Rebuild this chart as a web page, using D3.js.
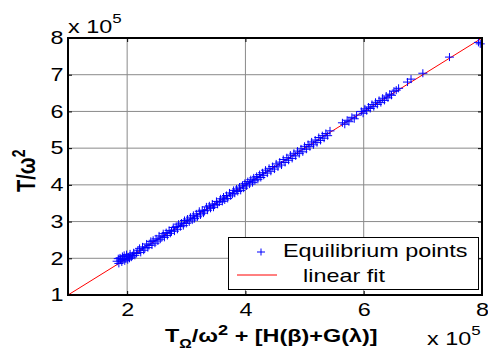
<!DOCTYPE html>
<html>
<head>
<meta charset="utf-8">
<script src="https://cdn.jsdelivr.net/npm/d3@7"></script>
<style>
  body { margin: 0; background: #fff; }
  svg { display: block; font-family: "Liberation Sans", Arial, sans-serif; }
  .grid line { stroke: #8a8a8a; stroke-width: 1; }
</style>
</head>
<body>
<svg id="plot" width="488" height="351"></svg>
<script>
// values in units of 10^5
var xTicks = [2, 4, 6, 8],
    yTicks = [1, 2, 3, 4, 5, 6, 7, 8];

var eqX = [1.83,1.85,1.86,1.88,1.89,1.91,1.92,1.93,1.95,1.96,1.98,1.99,2.01,2.02,2.04,2.05,2.07,2.09,2.11,2.13,2.16,2.18,
  2.21,2.23,2.26,2.28,2.30,2.33,2.35,2.37,2.40,2.42,2.44,2.47,2.49,2.52,2.54,2.56,2.59,2.61,2.63,2.66,2.68,2.71,2.73,2.75,2.78,2.80,2.83,2.85,2.87,2.90,2.92,2.95,2.97,3.00,
  3.02,3.05,3.07,3.10,3.12,3.14,3.17,3.19,3.22,3.24,3.27,3.29,3.31,3.34,3.36,3.39,3.41,3.44,3.46,3.48,3.51,3.53,3.56,3.58,3.61,3.63,3.65,3.68,3.70,3.73,3.75,3.78,3.80,3.82,3.85,3.87,3.90,3.92,3.95,3.97,3.99,4.02,4.04,4.07,4.09,4.12,4.14,4.16,4.19,4.21,4.24,4.26,4.29,
  4.31,4.34,4.37,4.40,4.43,4.46,4.49,4.52,4.55,4.58,4.61,4.64,4.67,4.70,4.73,4.76,4.79,4.82,4.85,4.88,4.91,4.94,4.97,5.00,5.03,5.06,5.09,5.12,5.15,5.18,5.21,5.24,5.27,5.30,5.33,5.36,5.39,5.43,
  5.64,5.68,5.72,5.75,5.80,5.84,5.88,
  5.96,5.99,6.02,6.05,6.08,6.11,6.14,6.17,6.20,6.23,6.26,6.29,6.32,6.35,6.38,6.41,6.44,6.47,6.51,6.55,6.59,
  6.74,6.80,7.00,7.45,7.94,7.97];
var eqY = [1.92,1.99,1.86,2.01,1.95,1.90,2.05,1.97,2.08,1.93,1.99,2.10,1.96,2.04,2.00,2.12,2.03,2.07,2.15,2.08,2.13,2.22,
  2.27,2.16,2.31,2.22,2.28,2.39,2.29,2.35,2.46,2.36,2.49,2.41,2.53,2.47,2.61,2.52,2.58,2.67,2.57,2.70,2.62,2.76,2.68,2.74,2.84,2.74,2.87,2.79,2.93,2.86,2.96,2.89,3.03,2.95,
  3.07,2.99,3.12,3.04,3.17,3.08,3.21,3.13,3.28,3.18,3.31,3.23,3.29,3.40,3.31,3.43,3.36,3.48,3.39,3.45,3.55,3.47,3.53,3.62,3.55,3.67,3.59,3.71,3.63,3.78,3.70,3.75,3.85,3.77,3.89,3.82,3.94,3.85,3.99,3.91,4.04,3.97,4.09,4.02,4.14,4.06,4.19,4.11,4.23,4.15,4.28,4.20,4.33,
  4.26,4.40,4.32,4.45,4.37,4.50,4.43,4.57,4.49,4.62,4.54,4.69,4.61,4.74,4.67,4.81,4.72,4.86,4.79,4.92,4.85,4.98,4.90,5.05,4.97,5.10,5.04,5.17,5.09,5.22,5.15,5.29,5.21,5.34,5.27,5.40,5.34,5.47,
  5.69,5.65,5.76,5.72,5.84,5.80,5.90,
  6.00,5.95,6.07,6.02,6.12,6.08,6.19,6.13,6.25,6.19,6.30,6.24,6.36,6.30,6.42,6.37,6.47,6.44,6.55,6.58,6.63,
  6.80,6.88,7.04,7.48,7.88,7.84];

var fitX = [1, 8],
    fitY = [1, 8];

var sx = 1.3; // the picture is a bit wider than tall, text too

var svg = d3.select("#plot"),
    margin = {top: 38, right: 6, bottom: 56, left: 68},
    width = 488 - margin.left - margin.right,
    height = 351 - margin.top - margin.bottom,
    g = svg.append("g").attr("transform", "translate(" + margin.left + "," + margin.top + ")");

var x = d3.scaleLinear().domain([1, 8]).range([0, width]);
var y = d3.scaleLinear().domain([1, 8]).range([height, 0]);

function stext(px, py, size) {
  return svg.append("text")
    .attr("transform", "translate(" + px + "," + py + ") scale(" + sx + ",1)")
    .attr("font-size", size + "px");
}

// grid
g.append("g").attr("class", "grid")
  .selectAll("line").data(xTicks.filter(function(d){ return d < 8; })).enter().append("line")
  .attr("x1", function(d){ return x(d); }).attr("x2", function(d){ return x(d); })
  .attr("y1", 0).attr("y2", height);
g.append("g").attr("class", "grid")
  .selectAll("line").data(yTicks.filter(function(d){ return d > 1 && d < 8; })).enter().append("line")
  .attr("y1", function(d){ return y(d); }).attr("y2", function(d){ return y(d); })
  .attr("x1", 0).attr("x2", width);

// axes (inward ticks)
function styleTicks(a) {
  a.select(".domain").remove();
  a.selectAll("text").attr("font-size", "18px").attr("fill", "#000").attr("font-family", null)
    .attr("transform", "scale(" + sx + ",1)");
}
g.append("g")
  .attr("transform", "translate(0," + height + ")")
  .call(d3.axisBottom(x).tickValues(xTicks).tickFormat(d3.format("d")).tickSizeInner(-4).tickSizeOuter(0).tickPadding(8))
  .call(styleTicks);
g.append("g")
  .call(d3.axisLeft(y).tickValues(yTicks).tickFormat(d3.format("d")).tickSizeInner(-4).tickSizeOuter(0).tickPadding(3.5))
  .call(styleTicks);
g.append("g")
  .call(d3.axisTop(x).tickValues(xTicks).tickSizeInner(-4).tickSizeOuter(0).tickFormat(""))
  .call(function(a){ a.select(".domain").remove(); });
g.append("g")
  .attr("transform", "translate(" + width + ",0)")
  .call(d3.axisRight(y).tickValues(yTicks).tickSizeInner(-4).tickSizeOuter(0).tickFormat(""))
  .call(function(a){ a.select(".domain").remove(); });

// fit line
var line = d3.line().x(function(d){ return x(d[0]); }).y(function(d){ return y(d[1]); });
g.append("path")
  .datum(d3.zip(fitX, fitY))
  .attr("d", line)
  .attr("fill", "none").attr("stroke", "#ff0000").attr("stroke-width", 1);

// points as '+'
g.append("g").selectAll("path").data(d3.zip(eqX, eqY)).enter().append("path")
  .attr("d", "M-4.5,0H4.5M0,-4V4")
  .attr("transform", function(d){ return "translate(" + x(d[0]) + "," + y(d[1]) + ")"; })
  .attr("stroke", "#0000ff").attr("stroke-width", 1).attr("fill", "none");

// box
g.append("rect").attr("width", width).attr("height", height)
  .attr("fill", "none").attr("stroke", "#000").attr("stroke-width", 2);

// exponent labels
var e1 = stext(68, 33, 18);
e1.append("tspan").text("x 10");
e1.append("tspan").attr("dy", -10).attr("font-size", "13px").text("5");
var e2 = stext(427, 345, 18);
e2.append("tspan").text("x 10");
e2.append("tspan").attr("dy", -10).attr("font-size", "13px").text("5");

// axis labels
var xl = stext(165, 342, 18).attr("font-weight", "bold");
xl.append("tspan").text("T");
xl.append("tspan").attr("dy", 6).attr("font-size", "12px").text("Ω");
xl.append("tspan").attr("dy", -6).text("/ω");
xl.append("tspan").attr("dy", -7).attr("font-size", "14px").text("2");
xl.append("tspan").attr("dy", 7).text(" + [H(β)+G(λ)]");

var yl = svg.append("text")
  .attr("transform", "translate(35,192) scale(" + sx + ",1) rotate(-90)")
  .attr("font-size", "20px").attr("font-weight", "bold");
yl.append("tspan").text("T/ω");
yl.append("tspan").attr("dy", -8).attr("font-size", "14px").text("2");

// legend
var lg = svg.append("g");
lg.append("rect").attr("x", 228.5).attr("y", 237.5).attr("width", 250).attr("height", 52)
  .attr("fill", "#fff").attr("stroke", "#000").attr("stroke-width", 1);
lg.append("path").attr("d", "M257,252H265M261,248.5V255.5")
  .attr("stroke", "#0000ff").attr("stroke-width", 1);
stext(283, 257, 18).text("Equilibrium points");
lg.append("line").attr("x1", 237).attr("x2", 277).attr("y1", 275).attr("y2", 275)
  .attr("stroke", "#ff0000").attr("stroke-width", 1);
stext(303, 282, 18).text("linear fit");
</script>
</body>
</html>
